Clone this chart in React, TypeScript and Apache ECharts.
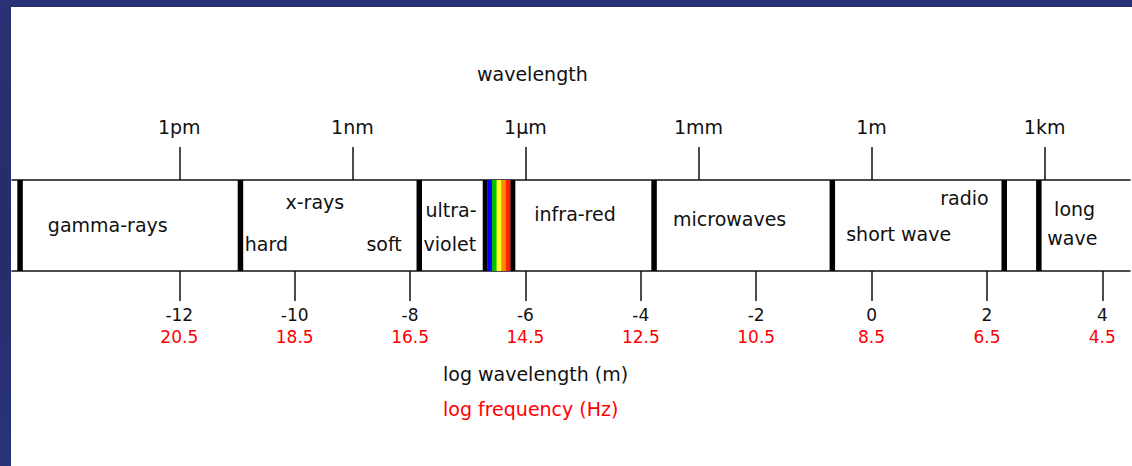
import React, { useEffect, useRef } from "react";
import * as echarts from "echarts";

// ---- data (log10 of wavelength in metres) ----
const wavelengthTicks = [-12, -9, -6, -3, 0, 3];
const wavelengthNames = ["1pm", "1nm", "1\u03bcm", "1mm", "1m", "1km"];
const logWavelengthTicks = [-12, -10, -8, -6, -4, -2, 0, 2, 4];
const logFrequencyLabels = ["20.5", "18.5", "16.5", "14.5", "12.5", "10.5", "8.5", "6.5", "4.5"];
const bandEdges = [-14.76, -10.94, -7.84, -3.77, -0.68, 2.3, 2.9];
const visibleRange = [-6.74, -6.18];
const visibleColors = ["#000000", "#0000ff", "#00c000", "#ffff20", "#ff8a00", "#ff2000", "#000000"];
const regionNames = ["gamma-rays", "x-rays", "hard", "soft", "ultra-", "violet", "infra-red", "microwaves", "radio", "short wave", "long", "wave"];
const regionAt = [-13.24, -9.65, -10.49, -8.45, -7.29, -7.31, -5.14, -2.46, 1.61, 0.47, 3.52, 3.48];
const regionLevel = [0.505, 0.758, 0.297, 0.297, 0.67, 0.297, 0.626, 0.571, 0.802, 0.407, 0.681, 0.363];
const axisMin = -14.9;
const axisMax = 4.48;

const FONT = "DejaVu Sans";

export default function App() {
  const ref = useRef<HTMLDivElement>(null);
  useEffect(() => {
    if (!ref.current) return;
    const chart = echarts.init(ref.current, undefined, { renderer: "svg" });
    const option: any = {
      animation: false,
      backgroundColor: "transparent",
      title: [
        {
          text: "wavelength",
          left: 477,
          top: 63,
          padding: 0,
          textStyle: { fontFamily: FONT, fontSize: 19, fontWeight: "normal", color: "#111", lineHeight: 22 },
        },
        {
          text: "log wavelength (m)",
          left: 443,
          top: 363,
          padding: 0,
          textStyle: { fontFamily: FONT, fontSize: 19, fontWeight: "normal", color: "#111", lineHeight: 22 },
        },
        {
          text: "log frequency (Hz)",
          left: 443,
          top: 398,
          padding: 0,
          textStyle: { fontFamily: FONT, fontSize: 19, fontWeight: "normal", color: "#ff0000", lineHeight: 22 },
        },
      ],
      grid: { left: 12, right: 2, top: 180, bottom: 195 },
      xAxis: [
        {
          type: "value",
          position: "bottom",
          min: axisMin,
          max: axisMax,
          splitLine: { show: false },
          axisLine: { show: true, lineStyle: { color: "#111", width: 1.5 } },
          axisTick: {
            show: true,
            customValues: logWavelengthTicks,
            length: 30,
            lineStyle: { color: "#111", width: 1.5 },
          },
          axisLabel: {
            customValues: logWavelengthTicks,
            margin: 33,
            formatter: (v: number) => {
              const i = logWavelengthTicks.indexOf(Math.round(v));
              return `{a|${Math.round(v)}}\n{b|${logFrequencyLabels[i] ?? ""}}`;
            },
            rich: {
              a: { fontFamily: FONT, fontSize: 17, color: "#111", lineHeight: 22 },
              b: { fontFamily: FONT, fontSize: 17, color: "#ff0000", lineHeight: 22 },
            },
          },
        },
        {
          type: "value",
          position: "top",
          min: axisMin,
          max: axisMax,
          splitLine: { show: false },
          axisLine: { show: true, lineStyle: { color: "#111", width: 1.5 } },
          axisTick: {
            show: true,
            customValues: wavelengthTicks,
            length: 33,
            lineStyle: { color: "#111", width: 1.5 },
          },
          axisLabel: {
            customValues: wavelengthTicks,
            margin: 42,
            fontFamily: FONT,
            fontSize: 19,
            lineHeight: 22,
            color: "#111",
            formatter: (v: number) => {
              const i = wavelengthTicks.indexOf(Math.round(v));
              return wavelengthNames[i] ?? "";
            },
          },
        },
      ],
      yAxis: { type: "value", min: 0, max: 1, show: false },
      series: [
        {
          type: "custom",
          name: "visible",
          silent: true,
          data: visibleColors.map((_, i) => [i]),
          renderItem: (params: any, api: any) => {
            const i = params.dataIndex;
            const w = (visibleRange[1] - visibleRange[0]) / visibleColors.length;
            const a = api.coord([visibleRange[0] + i * w, 1]);
            const b = api.coord([visibleRange[0] + (i + 1) * w, 0]);
            return {
              type: "rect",
              shape: { x: a[0], y: a[1], width: b[0] - a[0] + 0.3, height: b[1] - a[1] },
              style: { fill: visibleColors[i] },
            };
          },
        },
        {
          type: "custom",
          name: "edges",
          silent: true,
          data: bandEdges.map((v) => [v]),
          renderItem: (params: any, api: any) => {
            const v = api.value(0);
            const a = api.coord([v, 1]);
            const b = api.coord([v, 0]);
            return {
              type: "rect",
              shape: { x: a[0] - 2.75, y: a[1], width: 5.5, height: b[1] - a[1] },
              style: { fill: "#000" },
            };
          },
        },
        {
          type: "custom",
          name: "labels",
          silent: true,
          data: regionAt.map((v, i) => [v, regionLevel[i]]),
          renderItem: (params: any, api: any) => {
            const i = params.dataIndex;
            const p = api.coord([api.value(0), api.value(1)]);
            return {
              type: "text",
              x: p[0],
              y: p[1],
              style: {
                text: regionNames[i],
                align: "center",
                verticalAlign: "middle",
                fontFamily: FONT,
                fontSize: 19,
                fill: "#111",
              },
            };
          },
        },
      ],
    };
    chart.setOption(option);
    return () => chart.dispose();
  }, []);

  return (
    <div
      style={{
        position: "fixed",
        left: 0,
        top: 0,
        width: 1132,
        height: 466,
        background: "linear-gradient(180deg, #283274 0%, #242d6a 50%, #29337a 100%)",
        overflow: "hidden",
      }}
    >
      <div style={{ position: "absolute", left: 11, top: 7, right: 0, bottom: 0, background: "#ffffff" }} />
      <div ref={ref} style={{ position: "absolute", left: 0, top: 0, width: 1132, height: 466 }} />
    </div>
  );
}
